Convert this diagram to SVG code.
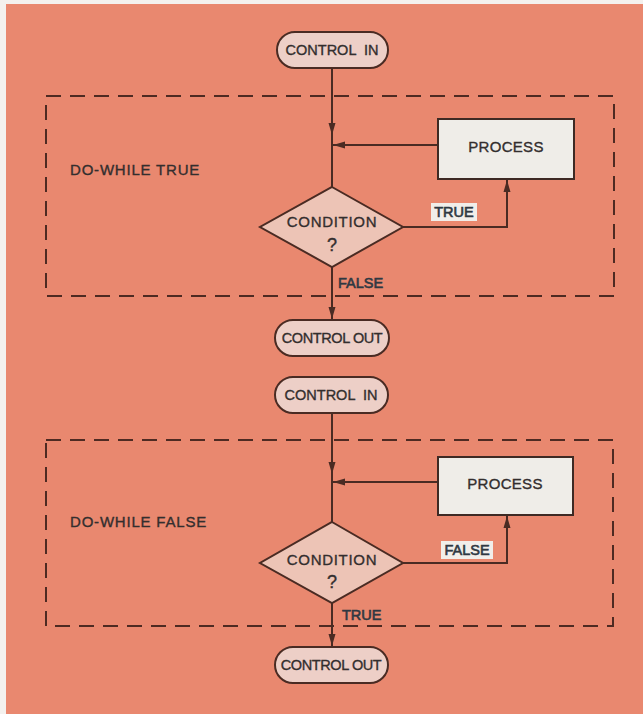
<svg xmlns="http://www.w3.org/2000/svg" width="643" height="714" viewBox="0 0 643 714">
<style>
.ln{fill:none;stroke:#4A2B23;stroke-width:2}
.dash{fill:none;stroke:#4E2A22;stroke-width:2;stroke-dasharray:15 9}
.pill{fill:#EDCFC7;stroke:#4A2B23;stroke-width:2}
.dia{fill:#EDC4B6;stroke:#4A2B23;stroke-width:2}
.proc{fill:#EFEDE8;stroke:#3E2A24;stroke-width:2}
.lblbg{fill:#F1EEEA}
text{font-family:"Liberation Sans",Arial,sans-serif;fill:#332E2E;stroke:#332E2E;stroke-width:0.35}
.t{font-size:14.5px;text-anchor:middle}
.big{font-size:15px}
.q{font-size:18px}
.lbl{font-size:14.5px;fill:#2F3842;stroke:#2F3842;stroke-width:0.6}
</style>
<defs>
<marker id="ah" markerUnits="userSpaceOnUse" markerWidth="12" markerHeight="8" refX="12" refY="4" orient="auto">
<path d="M0,0.5 L12,4 L0,7.5 z" fill="#4A2B23"/>
</marker>
</defs>
<rect x="0" y="0" width="643" height="714" fill="#F4F1EE"/>
<rect x="6" y="4" width="637" height="710" fill="#E9886F"/>

<g id="loop1">
<rect class="dash" x="46" y="96" width="568" height="200"/>
<text class="big" x="70" y="175" letter-spacing="0.8">DO-WHILE TRUE</text>
</g>
<g id="loop2">
<rect class="dash" x="46" y="440" width="567" height="186"/>
<text class="big" x="70" y="527" letter-spacing="0.8">DO-WHILE FALSE</text>
</g>

<g id="connectors">
<path class="ln" d="M332,68 V135" marker-end="url(#ah)"/>
<path class="ln" d="M332,134 V187"/>
<path class="ln" d="M438,145 H333" marker-end="url(#ah)"/>
<path class="ln" d="M403,227 H507 V180" marker-end="url(#ah)"/>
<path class="ln" d="M332,267 V319" marker-end="url(#ah)"/>
<path class="ln" d="M332,413 V474" marker-end="url(#ah)"/>
<path class="ln" d="M332,473 V522"/>
<path class="ln" d="M438,482 H333" marker-end="url(#ah)"/>
<path class="ln" d="M403,563 H507 V516" marker-end="url(#ah)"/>
<path class="ln" d="M332,603 V646" marker-end="url(#ah)"/>
<rect class="lblbg" x="431" y="203" width="46" height="18"/>
<text class="lbl" x="454" y="217" text-anchor="middle">TRUE</text>
<text class="lbl" x="338" y="288">FALSE</text>
<rect class="lblbg" x="441" y="541" width="52" height="18"/>
<text class="lbl" x="467" y="555" text-anchor="middle">FALSE</text>
<text class="lbl" x="342" y="620">TRUE</text>
</g>

<g id="ctrlIn1">
<rect class="pill" x="277" y="32" width="111" height="36" rx="18"/>
<text class="t" x="332" y="55" word-spacing="4">CONTROL IN</text>
</g>
<g id="process1">
<rect class="proc" x="438" y="119" width="136" height="60"/>
<text class="t big" x="506" y="152" letter-spacing="0.3">PROCESS</text>
</g>
<g id="cond1">
<polygon class="dia" points="332,187 403,227 332,267 260,227"/>
<text class="t big" x="332" y="227" letter-spacing="0.7">CONDITION</text>
<text class="t q" x="332" y="251">?</text>
</g>
<g id="ctrlOut1">
<rect class="pill" x="275" y="320" width="114" height="36" rx="18"/>
<text class="t" x="332" y="343" letter-spacing="-0.4">CONTROL OUT</text>
</g>

<g id="ctrlIn2">
<rect class="pill" x="275" y="377" width="113" height="36" rx="18"/>
<text class="t" x="331" y="400" word-spacing="4">CONTROL IN</text>
</g>
<g id="process2">
<rect class="proc" x="438" y="457" width="135" height="58"/>
<text class="t big" x="505" y="489" letter-spacing="0.3">PROCESS</text>
</g>
<g id="cond2">
<polygon class="dia" points="332,522 403,563 332,603 260,563"/>
<text class="t big" x="332" y="565" letter-spacing="0.7">CONDITION</text>
<text class="t q" x="332" y="588">?</text>
</g>
<g id="ctrlOut2">
<rect class="pill" x="275" y="647" width="113" height="36" rx="18"/>
<text class="t" x="331" y="670" letter-spacing="-0.4">CONTROL OUT</text>
</g>
</svg>
